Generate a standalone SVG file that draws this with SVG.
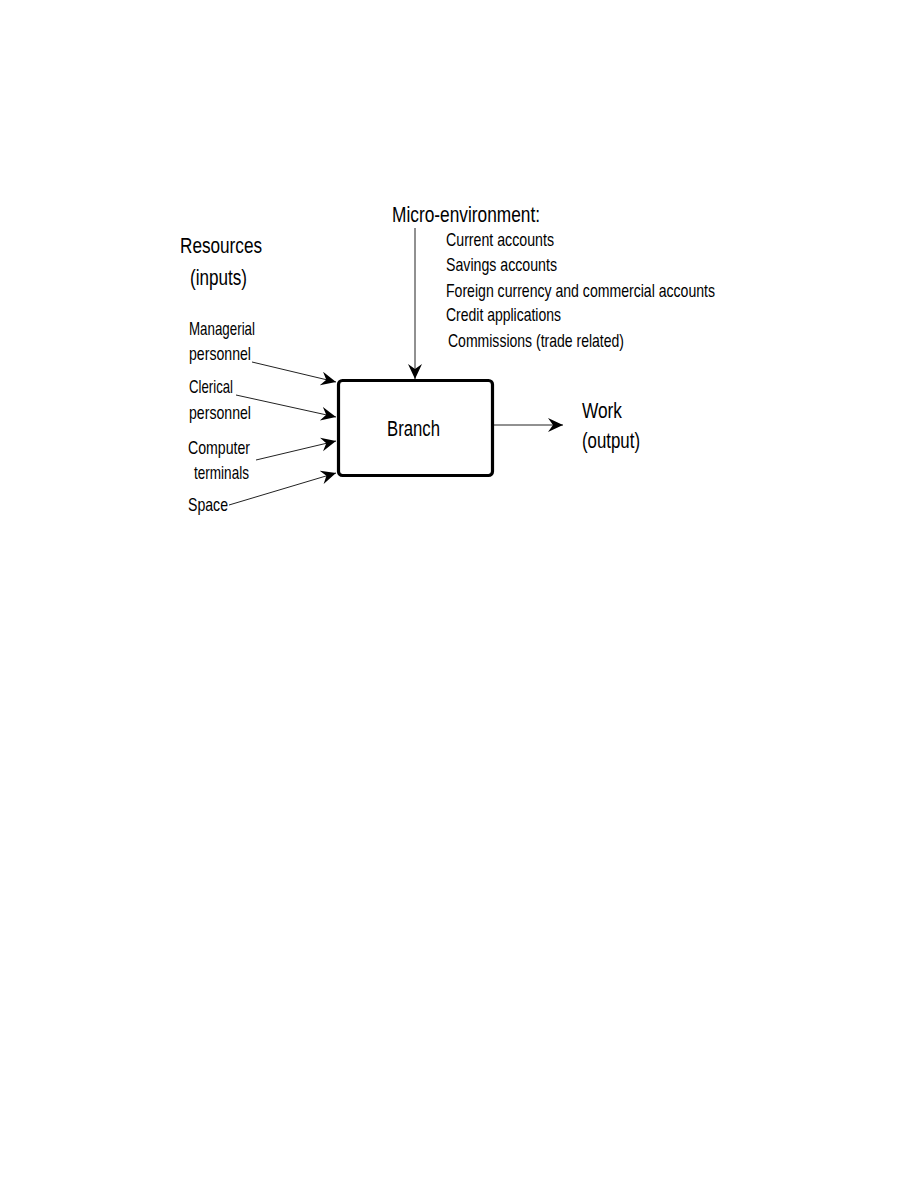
<svg xmlns="http://www.w3.org/2000/svg" width="918" height="1184" viewBox="0 0 918 1184">
<style>
text{font-family:"Liberation Sans Narrow","Liberation Sans",Arial,sans-serif;fill:#000}
.big{font-size:22px}
.sm{font-size:18.5px}
.ln{stroke:#222;stroke-width:1;fill:none}
</style>
<defs>
<marker id="ah" markerUnits="userSpaceOnUse" markerWidth="18" markerHeight="16" refX="15" refY="7" orient="auto">
<path d="M0,0 L15,7 L0,14 L5,7 z" fill="#000"/>
</marker>
</defs>
<rect width="918" height="1184" fill="#fff"/>
<g id="connectors">
<line class="ln" x1="415" y1="228" x2="415" y2="379" marker-end="url(#ah)"/>
<line class="ln" x1="252" y1="362" x2="336" y2="382" marker-end="url(#ah)"/>
<line class="ln" x1="236" y1="395" x2="336" y2="417" marker-end="url(#ah)"/>
<line class="ln" x1="256" y1="460" x2="336" y2="441" marker-end="url(#ah)"/>
<line class="ln" x1="229" y1="505" x2="336" y2="473" marker-end="url(#ah)"/>
<line class="ln" x1="494" y1="425" x2="563" y2="425" marker-end="url(#ah)"/>
</g>
<g id="branch">
<rect x="338.5" y="380.5" width="154" height="95" rx="4" fill="#fff" stroke="#000" stroke-width="3.2"/>
<text class="big" x="387" y="436" textLength="53" lengthAdjust="spacingAndGlyphs">Branch</text>
</g>
<g id="micro-environment">
<text class="big" x="392" y="222" textLength="148" lengthAdjust="spacingAndGlyphs">Micro-environment:</text>
<text class="sm" x="446" y="246" textLength="108" lengthAdjust="spacingAndGlyphs">Current accounts</text>
<text class="sm" x="446" y="271" textLength="111" lengthAdjust="spacingAndGlyphs">Savings accounts</text>
<text class="sm" x="446" y="297" textLength="269" lengthAdjust="spacingAndGlyphs">Foreign currency and commercial accounts</text>
<text class="sm" x="446" y="321" textLength="115" lengthAdjust="spacingAndGlyphs">Credit applications</text>
<text class="sm" x="448" y="347" textLength="176" lengthAdjust="spacingAndGlyphs">Commissions (trade related)</text>
</g>
<g id="resources">
<text class="big" x="180" y="253" textLength="82" lengthAdjust="spacingAndGlyphs">Resources</text>
<text class="big" x="190" y="285" textLength="57" lengthAdjust="spacingAndGlyphs">(inputs)</text>
</g>
<g id="managerial">
<text class="sm" x="189" y="335" textLength="66" lengthAdjust="spacingAndGlyphs">Managerial</text>
<text class="sm" x="189" y="360" textLength="62" lengthAdjust="spacingAndGlyphs">personnel</text>
</g>
<g id="clerical">
<text class="sm" x="189" y="393" textLength="44" lengthAdjust="spacingAndGlyphs">Clerical</text>
<text class="sm" x="189" y="419" textLength="62" lengthAdjust="spacingAndGlyphs">personnel</text>
</g>
<g id="computer">
<text class="sm" x="188" y="454" textLength="62" lengthAdjust="spacingAndGlyphs">Computer</text>
<text class="sm" x="194" y="479" textLength="55" lengthAdjust="spacingAndGlyphs">terminals</text>
</g>
<g id="space">
<text class="sm" x="188" y="511" textLength="40" lengthAdjust="spacingAndGlyphs">Space</text>
</g>
<g id="work">
<text class="big" x="582" y="418" textLength="40" lengthAdjust="spacingAndGlyphs">Work</text>
<text class="big" x="582" y="448" textLength="58" lengthAdjust="spacingAndGlyphs">(output)</text>
</g>
</svg>
